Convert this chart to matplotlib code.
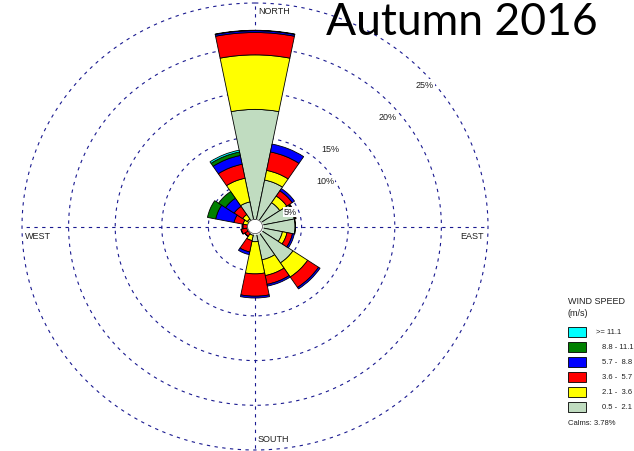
import numpy as np
import matplotlib
matplotlib.use('Agg')
import matplotlib.pyplot as plt

W, H = 634, 452

directions = ['N', 'NNE', 'NE', 'ENE', 'E', 'ESE', 'SE', 'SSE',
              'S', 'SSW', 'SW', 'WSW', 'W', 'WNW', 'NW', 'NNW']
speed_classes = ['0.5 -  2.1', '2.1 -  3.6', '3.6 -  5.7',
                 '5.7 -  8.8', '8.8 - 11.1', '>= 11.1']
colors = ['#c0dcc0', '#ffff00', '#ff0000', '#0000ff', '#008000', '#00ffff']

# frequency (%) of each speed class per direction
f_05_21 = [13.1, 5.3, 3.2, 4.3, 4.3, 3.0, 4.9, 3.8, 1.7, 1.0, 0.6, 0.6, 0.5, 0.8, 1.0, 2.8]
f_21_36 = [6.1, 1.1, 0.9, 0.1, 0.05, 0.5, 1.9, 1.8, 3.6, 0.6, 0.3, 0.3, 0.3, 0.5, 0.6, 2.7]
f_36_57 = [2.5, 2.1, 0.7, 0.1, 0.0, 0.6, 1.4, 1.0, 2.5, 1.3, 0.4, 0.6, 0.5, 1.0, 1.1, 1.6]
f_57_88 = [0.2, 0.9, 0.3, 0.0, 0.0, 0.2, 0.2, 0.2, 0.2, 0.3, 0.05, 0.05, 0.1, 2.0, 1.1, 1.0]
f_88_111 = [0.05, 0.0, 0.0, 0.0, 0.0, 0.0, 0.0, 0.0, 0.0, 0.0, 0.0, 0.0, 0.0, 0.9, 0.9, 0.4]
f_111 = [0.0, 0.0, 0.0, 0.0, 0.0, 0.0, 0.0, 0.0, 0.0, 0.0, 0.0, 0.0, 0.0, 0.0, 0.0, 0.2]
calms = 3.78

rings = [5, 10, 15, 20, 25]
ring_labels = ['5%', '10%', '15%', '20%', '25%']

fig = plt.figure(figsize=(W / 100, H / 100), dpi=100)
ax = fig.add_axes([22 / W, 1 - 451 / H, 466 / W, 447 / H], projection='polar')
ax.set_aspect('auto')
ax.set_theta_zero_location('N')
ax.set_theta_direction(-1)
ax.set_ylim(0, 25)
ax.grid(False)
ax.set_xticks([])
ax.set_yticks([])
ax.spines['polar'].set_visible(False)
ax.patch.set_visible(False)

grid_kw = dict(color='#1a1a90', lw=0.8, ls=(0, (3, 4)), zorder=1, clip_on=False)
t = np.linspace(0, 2 * np.pi, 600)
for r in rings:
    ax.plot(t, np.full_like(t, r), **grid_kw)
for a in [0, np.pi / 2, np.pi, 3 * np.pi / 2]:
    ax.plot([a, a], [0, 25], **grid_kw)

theta = np.arange(16) * 2 * np.pi / 16
width = 2 * np.pi / 16
bottom = np.zeros(16)
for vals, c in zip([f_05_21, f_21_36, f_36_57, f_57_88, f_88_111, f_111], colors):
    vals = np.array(vals)
    m = vals > 0
    ax.bar(theta[m], vals[m], width=width, bottom=bottom[m], color=c,
           edgecolor='black', lw=0.6, zorder=3)
    bottom += vals

# calms circle in the middle
ax.fill_between(t, 0, 0.8, color='white', zorder=5)
ax.plot(t, np.full_like(t, 0.8), color='#404040', lw=0.5, zorder=6)

def px(x, y):
    return x / W, 1 - y / H

small = dict(family='Liberation Sans', fontsize=6.5, color='#202020')
fig.text(*px(258, 11), 'NORTH', ha='left', va='center', **small)
fig.text(*px(258, 440), 'SOUTH', ha='left', va='center', **small)
fig.text(*px(25, 237), 'WEST', ha='left', va='center', **small)
fig.text(*px(484, 237), 'EAST', ha='right', va='center', **small)

label_pos = [(290, 213), (325, 181), (330, 150), (388, 118), (425, 85)]
for (x, y), s in zip(label_pos, ring_labels):
    fig.text(*px(x, y), s, ha='center', va='center', zorder=10,
             bbox=dict(facecolor='white', edgecolor='none', pad=0.3),
             **small)

fig.text(*px(326, 35), 'Autumn 2016', family='Lato', fontsize=32,
         ha='left', va='baseline', color='black')

# legend
fig.text(*px(568, 302), 'WIND SPEED', ha='left', va='center', **small)
fig.text(*px(568, 314), '(m/s)', ha='left', va='center', **small)
rows = [333, 348, 363, 378, 393, 408]
for y, c, lab in zip(rows, colors[::-1], speed_classes[::-1]):
    fig.patches.append(plt.Rectangle(px(568, y + 5), 18 / W, 10 / H,
                                     transform=fig.transFigure,
                                     facecolor=c, edgecolor='black', lw=0.6))
    x0 = 596 if lab.startswith('>') else 602
    fig.text(*px(x0, y), lab, ha='left', va='center',
             family='Liberation Sans', fontsize=5.5, color='#202020')
fig.text(*px(568, 424), 'Calms: %.2f%%' % calms, ha='left', va='center',
         family='Liberation Sans', fontsize=5.5, color='#202020')

fig.savefig('out.png', dpi=100)
